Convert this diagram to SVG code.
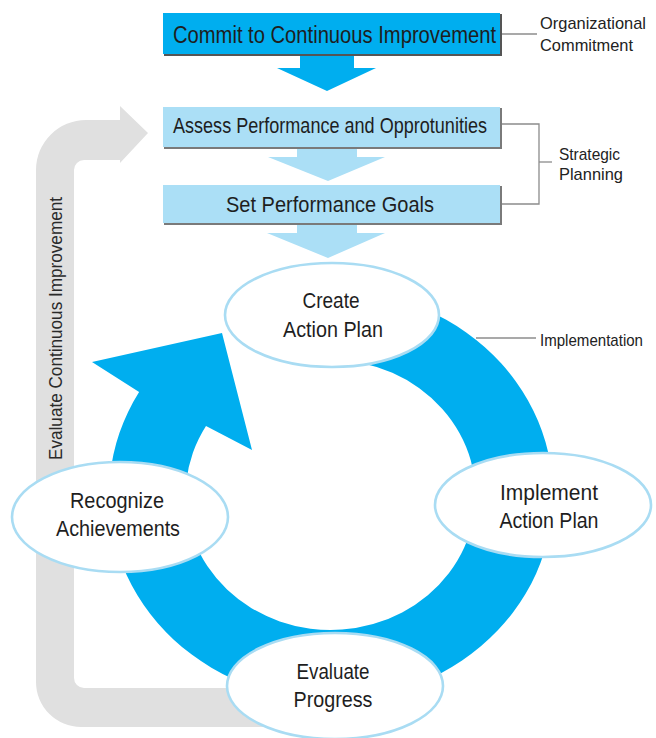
<svg xmlns="http://www.w3.org/2000/svg" width="656" height="738" viewBox="0 0 656 738">
  <style>
    text { font-family: "Liberation Sans Narrow", "Liberation Sans", Arial, sans-serif; fill: #1e1e1e; }
    .box-text { font-size: 22px; text-anchor: start; }
    .oval-text { font-size: 22px; text-anchor: middle; }
    .side-text { font-size: 17px; fill: #222; }
    .oval { fill: #ffffff; stroke: #a9dcf3; stroke-width: 2.6; }
    .dark-box { fill: #00aeef; }
    .light-box { fill: #abdff6; }
    .shadow { fill: none; stroke: #555555; stroke-width: 2; }
    .shadow-light { fill: none; stroke: #7a7a7a; stroke-width: 2; }
    .leader { fill: none; stroke: #8c8c8c; stroke-width: 1.3; }
  </style>

  <!-- connectors: flow arrows, cycle ring, return loop, bracket lines -->
  <g id="connectors">
    <!-- grey return loop from Evaluate Progress back up to Assess -->
    <path id="return-loop" fill="#e0e0e0"
          d="M 300,688 L 84,688 A 10 10 0 0 1 74,678 L 74,170 A 10 10 0 0 1 84,160 L 120,160 L 120,163 L 148,133 L 120,106 L 120,120 L 86,120 A 50 50 0 0 0 36,170 L 36,682 A 45 45 0 0 0 81,727 L 300,727 Z"/>
    <!-- downward flow arrows -->
    <polygon id="arrow-commit" fill="#00aeef" points="300,53 354,53 354,68 376,68 327,91 277,68 300,68"/>
    <polygon id="arrow-assess" fill="#abdff6" points="297,147 357,147 357,157 385,157 328,181 268,157 297,157"/>
    <polygon id="arrow-goals" fill="#abdff6" points="297,223 357,223 357,233 385,233 328,258 267,233 297,233"/>
    <!-- implementation cycle ring with arrowhead -->
    <path id="cycle-ring" fill="#00aeef"
          d="M 331,290 A 222 205 0 1 1 139.1,392 L 92,362 L 222,333 L 252,450 L 206,426 A 145 135 0 1 0 331,360 Z"/>
    <!-- side label leaders -->
    <line class="leader" x1="501" y1="34" x2="537" y2="34"/>
    <polyline class="leader" points="501,124 539,124 539,204 501,204"/>
    <line class="leader" x1="539" y1="162" x2="552" y2="162"/>
    <line class="leader" x1="476" y1="338" x2="536" y2="338"/>
  </g>

  <!-- process boxes -->
  <g id="commit">
    <rect class="dark-box" x="163" y="13" width="337" height="41"/>
    <polyline class="shadow" points="501,14 501,55 164,55"/>
    <text class="box-text" x="173" y="43" style="font-size:23px" textLength="323" lengthAdjust="spacingAndGlyphs">Commit to Continuous Improvement</text>
  </g>
  <g id="assess">
    <rect class="light-box" x="163" y="107" width="337" height="40"/>
    <polyline class="shadow-light" points="501,108 501,148 164,148"/>
    <text class="box-text" x="173" y="133" textLength="314" lengthAdjust="spacingAndGlyphs">Assess Performance and Opprotunities</text>
  </g>
  <g id="goals">
    <rect class="light-box" x="163" y="185" width="337" height="38"/>
    <polyline class="shadow-light" points="501,186 501,224 164,224"/>
    <text class="box-text" x="226" y="212" textLength="208" lengthAdjust="spacingAndGlyphs">Set Performance Goals</text>
  </g>

  <!-- cycle stages -->
  <g id="create-plan">
    <ellipse class="oval" cx="332" cy="315" rx="107" ry="52"/>
    <text class="oval-text" x="331" y="308" textLength="57" lengthAdjust="spacingAndGlyphs">Create</text>
    <text class="oval-text" x="333" y="337" textLength="100" lengthAdjust="spacingAndGlyphs">Action Plan</text>
  </g>
  <g id="implement-plan">
    <ellipse class="oval" cx="543" cy="505" rx="108" ry="52"/>
    <text class="oval-text" x="549" y="500" textLength="98" lengthAdjust="spacingAndGlyphs">Implement</text>
    <text class="oval-text" x="549" y="528" textLength="99" lengthAdjust="spacingAndGlyphs">Action Plan</text>
  </g>
  <g id="recognize">
    <ellipse class="oval" cx="120" cy="517" rx="108" ry="55"/>
    <text class="oval-text" x="117" y="508" textLength="94" lengthAdjust="spacingAndGlyphs">Recognize</text>
    <text class="oval-text" x="118" y="536" textLength="124" lengthAdjust="spacingAndGlyphs">Achievements</text>
  </g>
  <g id="evaluate">
    <ellipse class="oval" cx="335" cy="686" rx="108" ry="53"/>
    <text class="oval-text" x="333" y="679" textLength="73" lengthAdjust="spacingAndGlyphs">Evaluate</text>
    <text class="oval-text" x="333" y="707" textLength="79" lengthAdjust="spacingAndGlyphs">Progress</text>
  </g>

  <!-- loop caption -->
  <g id="loop-label">
    <text transform="translate(62,460) rotate(-90)" style="font-size:19px;fill:#2a2a2a" textLength="263" lengthAdjust="spacingAndGlyphs">Evaluate Continuous Improvement</text>
  </g>

  <!-- phase labels -->
  <g id="phase-labels">
    <text class="side-text" x="540" y="29" textLength="106" lengthAdjust="spacingAndGlyphs">Organizational</text>
    <text class="side-text" x="540" y="51" textLength="93" lengthAdjust="spacingAndGlyphs">Commitment</text>
    <text class="side-text" x="559" y="160" textLength="61" lengthAdjust="spacingAndGlyphs">Strategic</text>
    <text class="side-text" x="559" y="180" textLength="64" lengthAdjust="spacingAndGlyphs">Planning</text>
    <text class="side-text" x="540" y="346" textLength="103" lengthAdjust="spacingAndGlyphs">Implementation</text>
  </g>
</svg>
